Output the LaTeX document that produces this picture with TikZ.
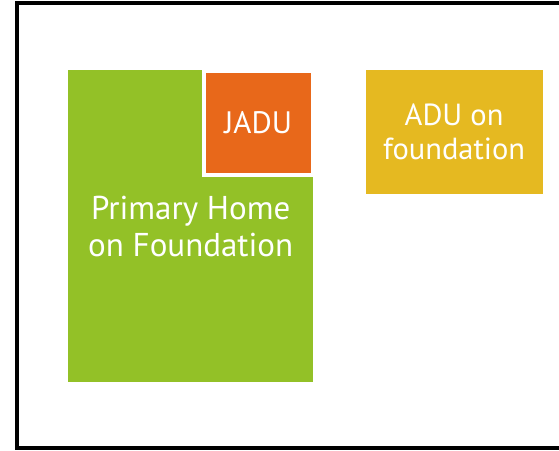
\documentclass[tikz,border=0pt]{standalone}
\usepackage{fontspec}
\setsansfont{PT Sans}
\usetikzlibrary{positioning}
\definecolor{homegreen}{RGB}{147,193,39}
\definecolor{jaduorange}{RGB}{232,104,26}
\definecolor{aduyellow}{RGB}{229,185,33}
\tikzstyle{every node} = [font=\sffamily, text=white, align=center, inner sep=0pt]
\tikzstyle{unit} = [anchor=north west]

\begin{document}
\begin{tikzpicture}[x=1pt, y=-1pt]
        \useasboundingbox (0,0) rectangle (559,450);
        % frame, open on the right
        \draw[line width=4pt] (17,3) rectangle (580,448);
        \node[unit, fill=homegreen, minimum width=245pt, minimum height=312pt,
              font=\sffamily\fontsize{33}{37}\selectfont]
            (primary) at (68,70) {Primary Home\\on Foundation};
        \node[unit, fill=jaduorange, draw=white, line width=3.5pt,
              minimum width=109pt, minimum height=103.5pt,
              font=\sffamily\fontsize{31}{34}\selectfont]
            (jadu) at (202,69.5) {JADU};
        \node[right=52pt of primary.north east, unit, fill=aduyellow,
              minimum width=177pt, minimum height=124pt,
              font=\sffamily\fontsize{30.5}{34}\selectfont]
            (adu) {ADU on\\foundation};
    \end{tikzpicture}
\end{document}
